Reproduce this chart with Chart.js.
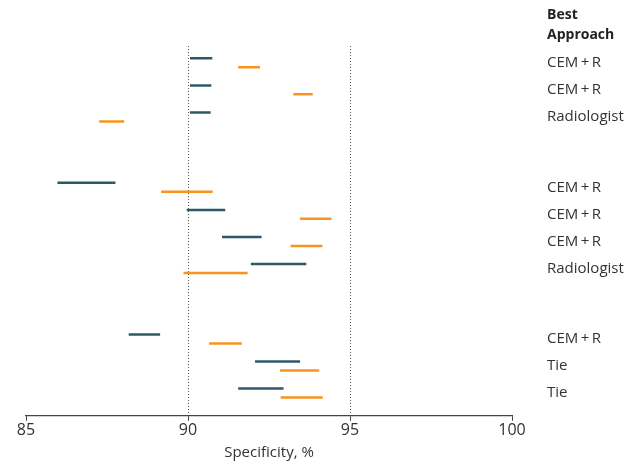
<!DOCTYPE html>
<html>
<head>
<meta charset="utf-8">
<script src="https://cdn.jsdelivr.net/npm/chart.js@4.4.1/dist/chart.umd.min.js"></script>
<style>
  html, body { margin: 0; padding: 0; background: #fff; }
</style>
</head>
<body>
<canvas id="chart" width="635" height="466"></canvas>
<script>
// rows in each subgroup, top to bottom
const groupSizes = [3, 4, 3];

const bestApproach = [
    'CEM\u2009+\u2009R', 'CEM\u2009+\u2009R', 'Radiologist',
    'CEM\u2009+\u2009R', 'CEM\u2009+\u2009R', 'CEM\u2009+\u2009R', 'Radiologist',
    'CEM\u2009+\u2009R', 'Tie', 'Tie',
];

// specificity intervals, %
const radiologistLow  = [90.06, 90.06, 90.06, 85.97, 89.96, 91.05, 91.94, 88.17, 92.07, 91.55];
const radiologistHigh = [90.75, 90.72, 90.70, 87.76, 91.15, 92.27, 93.65, 89.14, 93.46, 92.95];
const cemLow          = [91.55, 93.25, 87.26, 89.17, 93.46, 93.17, 89.86, 90.65, 92.84, 92.86];
const cemHigh         = [92.22, 93.85, 88.03, 90.76, 94.43, 94.15, 91.84, 91.66, 94.05, 94.16];

const xTicks = [85, 90, 95, 100];
const refLines = [90, 95];

const DARK = '#2c5868';
const ORANGE = '#f7941e';
const FONT = '"Open Sans", sans-serif';

// row layout: subgroups separated by a wider gap, the two intervals of a row sit just above/below it
const GROUP_GAP = 2.6;
const PAIR_OFFSET = 0.165;
const rowPos = [];
let pos = 0;
groupSizes.forEach((n) => {
    for (let i = 0; i < n; i++) rowPos.push(pos + i);
    pos += n - 1 + GROUP_GAP;
});

const rightLabels = {
    id: 'rightLabels',
    afterDraw(chart) {
        const { ctx, chartArea, scales } = chart;
        const x = chartArea.right + 35;
        ctx.save();
        ctx.textAlign = 'left';
        ctx.textBaseline = 'middle';
        ctx.fillStyle = '#222';
        ctx.font = 'bold 14px ' + FONT;
        ctx.fillText('Best', x, 15);
        ctx.fillText('Approach', x, 35);
        ctx.fillStyle = '#333';
        ctx.font = '15px ' + FONT;
        bestApproach.forEach((label, i) => {
            ctx.fillText(label, x, scales.y.getPixelForValue(rowPos[i]));
        });
        ctx.restore();
    },
};

new Chart(document.getElementById('chart'), {
    type: 'bar',
    data: {
        datasets: [
            {
                label: 'Radiologist',
                data: rowPos.map((y, i) => ({ y: y - PAIR_OFFSET, x: [radiologistLow[i], radiologistHigh[i]] })),
                backgroundColor: DARK,
            },
            {
                label: 'CEM + R',
                data: rowPos.map((y, i) => ({ y: y + PAIR_OFFSET, x: [cemLow[i], cemHigh[i]] })),
                backgroundColor: ORANGE,
            },
        ],
    },
    options: {
        indexAxis: 'y',
        responsive: false,
        animation: false,
        grouped: false,
        maxBarThickness: 2.5,
        borderSkipped: false,
        layout: { padding: { top: 46, right: 123, bottom: 4, left: 26 } },
        plugins: {
            legend: { display: false },
            tooltip: { enabled: false },
        },
        scales: {
            x: {
                type: 'linear',
                min: 85,
                max: 100,
                afterBuildTicks: (scale) => {
                    scale.ticks = xTicks.map((v) => ({ value: v }));
                },
                ticks: {
                    color: '#333',
                    font: { family: FONT, size: 16 },
                    padding: 0,
                },
                grid: {
                    color: (c) => (c.tick && refLines.includes(c.tick.value) ? '#555' : 'transparent'),
                    tickColor: '#444',
                    tickLength: 5,
                    lineWidth: 1,
                },
                border: { color: '#444', width: 1.2, dash: [1, 2] },
                title: {
                    display: true,
                    text: 'Specificity, %',
                    color: '#333',
                    font: { family: FONT, size: 15 },
                    padding: { top: 4, bottom: 0 },
                },
            },
            y: {
                type: 'linear',
                reverse: true,
                offset: false,
                min: -0.62,
                max: 13.04,
                display: false,
            },
        },
    },
    plugins: [rightLabels],
});
</script>
</body>
</html>
